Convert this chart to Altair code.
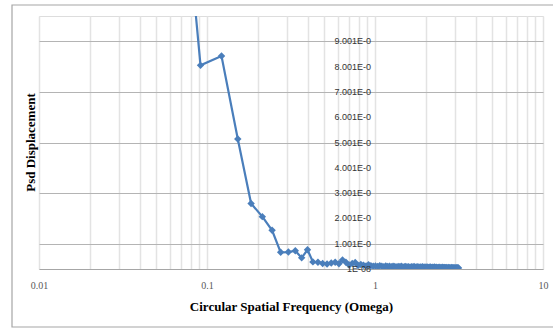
import altair as alt
import pandas as pd

# Circular spatial frequency (omega) of each spectral line
omega = [
    0.061, 0.0915, 0.122, 0.1525, 0.183, 0.2135, 0.244, 0.2745, 0.305, 0.3355,
    0.366, 0.3965, 0.427, 0.4575, 0.488, 0.5185, 0.549, 0.5795, 0.61, 0.6405,
    0.671, 0.7015, 0.732, 0.7625, 0.793, 0.8235, 0.854, 0.8845, 0.915, 0.9455,
    0.976, 1.0065, 1.037, 1.0675, 1.098, 1.1285, 1.159, 1.1895, 1.22, 1.2505,
    1.281, 1.3115, 1.342, 1.3725, 1.403, 1.4335, 1.464, 1.4945, 1.525, 1.5555,
    1.586, 1.6165, 1.647, 1.6775, 1.708, 1.7385, 1.769, 1.7995, 1.83, 1.8605,
    1.891, 1.9215, 1.952, 1.9825, 2.013, 2.0435, 2.074, 2.1045, 2.135, 2.1655,
    2.196, 2.2265, 2.257, 2.2875, 2.318, 2.3485, 2.379, 2.4095, 2.44, 2.4705,
    2.501, 2.5315, 2.562, 2.5925, 2.623, 2.6535, 2.684, 2.7145, 2.745, 2.7755,
    2.806, 2.8365, 2.867, 2.8975, 2.928, 2.9585, 2.989, 3.0195, 3.05, 3.0805,
    3.111, 3.1415,
]

# PSD of displacement at each frequency
psd = [
    20.6, 8.05, 8.42, 5.14, 2.59, 2.07, 1.53, 0.66, 0.67, 0.72,
    0.44, 0.76, 0.28, 0.27, 0.22, 0.20, 0.24, 0.27, 0.21, 0.36,
    0.27, 0.16, 0.22, 0.26, 0.14, 0.18, 0.15, 0.12, 0.17, 0.13,
    0.11, 0.12, 0.10, 0.13, 0.11, 0.09, 0.12, 0.10, 0.11, 0.09,
    0.11, 0.10, 0.08, 0.10, 0.09, 0.11, 0.08, 0.09, 0.10, 0.08,
    0.09, 0.07, 0.09, 0.08, 0.10, 0.07, 0.08, 0.09, 0.07, 0.08,
    0.07, 0.09, 0.06, 0.08, 0.07, 0.08, 0.06, 0.07, 0.08, 0.06,
    0.07, 0.06, 0.08, 0.06, 0.07, 0.05, 0.06, 0.07, 0.06, 0.05,
    0.06, 0.07, 0.05, 0.06, 0.05, 0.06, 0.05, 0.04, 0.06, 0.05,
    0.04, 0.05, 0.06, 0.04, 0.05, 0.04, 0.05, 0.04, 0.05, 0.04,
    0.05, 0.04,
]

# Vertical-axis tick labels (drawn at omega = 1, where the axis crosses)
y_ticks = [0, 1, 2, 3, 4, 5, 6, 7, 8, 9]
y_labels = ["1E-08", "1.001E-0", "2.001E-0", "3.001E-0", "4.001E-0",
            "5.001E-0", "6.001E-0", "7.001E-0", "8.001E-0", "9.001E-0"]
y_cross = 1

# Log grid lines for the frequency axis
x_grid = [m * d for d in (0.01, 0.1, 1) for m in range(1, 10)] + [10]

W, H = 504, 253
BLUE = "#4a7ebb"

df = pd.DataFrame({"omega": omega, "psd": psd})
lab = pd.DataFrame({"y": y_ticks, "label": y_labels, "x": [y_cross] * len(y_ticks)})

xscale = alt.Scale(type="log", domain=[0.01, 10])
yscale = alt.Scale(domain=[0, 10])

x_axis = alt.Axis(
    values=x_grid,
    labelExpr="indexof([0.01, 0.1, 1, 10], datum.value) >= 0 ? format(datum.value, '') : ''",
    labelFont="Liberation Serif", labelFontSize=10, labelColor="#595959",
    labelPadding=11, labelFlush=False, labelOverlap=False, ticks=False,
    domainColor="#a6a6a6", domainWidth=1,
    grid=True, gridColor="#e3e3e3", gridWidth=1.5,
    title="Circular Spatial Frequency (Omega)",
    titleFont="Liberation Serif", titleFontSize=13, titleFontWeight="bold",
    titleColor="#000000", titlePadding=10,
)
y_axis = alt.Axis(
    values=[1, 2, 3, 4, 5, 6, 7, 8, 9],
    labels=False, ticks=False, domain=False,
    grid=True, gridColor="#b4b4b4", gridWidth=1,
    title="Psd Displacement",
    titleFont="Liberation Serif", titleFontSize=13, titleFontWeight="bold",
    titleColor="#000000", titleX=-9, titleY=126, titleAngle=-90,
    titleAlign="center", titleBaseline="middle",
)

frame = alt.Chart(pd.DataFrame({"k": [0]})).mark_rect(
    fill=None, stroke="#a6a6a6", strokeWidth=1.2
).encode(
    x=alt.value(-27), x2=alt.value(W + 30), y=alt.value(-11), y2=alt.value(H + 58)
)

line = alt.Chart(df).mark_line(
    color=BLUE, strokeWidth=2.2, clip=True,
    point=alt.OverlayMarkDef(shape="diamond", size=55, filled=True, color=BLUE),
).encode(
    x=alt.X("omega:Q", scale=xscale, axis=x_axis),
    y=alt.Y("psd:Q", scale=yscale, axis=y_axis),
)

labels = alt.Chart(lab).mark_text(
    align="right", baseline="middle", dx=-4,
    font="Liberation Sans", fontSize=9, color="#333333",
).encode(
    x=alt.X("x:Q", scale=xscale),
    y=alt.Y("y:Q", scale=yscale),
    text="label:N",
)

chart = alt.layer(frame, line, labels).properties(
    width=W, height=H,
    autosize=alt.AutoSizeParams(type="none"),
    padding={"left": 39, "top": 16, "right": 10, "bottom": 60},
).configure_view(stroke=None).configure(background="white")

chart.save("out.html", embed_options={"renderer": "svg", "actions": False})
